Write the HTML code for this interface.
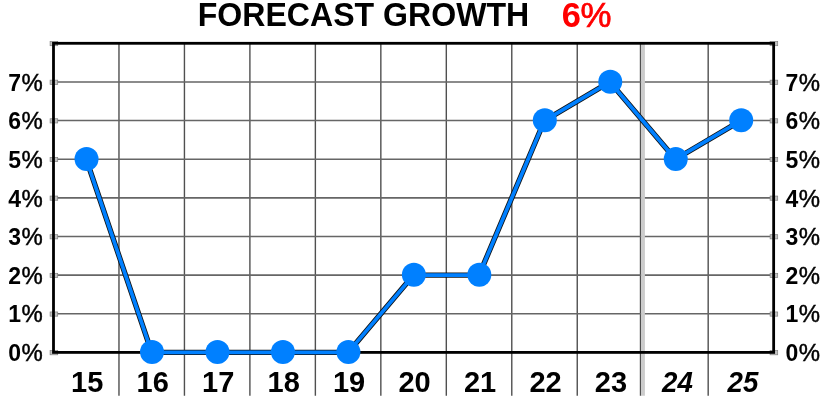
<!DOCTYPE html>
<html><head><meta charset="utf-8">
<style>
html,body{margin:0;padding:0;background:#fff;}
svg{display:block;will-change:transform;}
text{font-family:"Liberation Sans",sans-serif;font-weight:bold;fill:#000;}
</style></head>
<body>
<svg width="824" height="404" viewBox="0 0 824 404">
<text transform="translate(197.7 25.85) scale(1 1.035)" font-size="32.1">FORECAST GROWTH</text>
<text x="561.8" y="26.8" font-size="34.5" style="fill:#f00">6</text>
<text transform="translate(580.6 26.8) scale(1.01 1)" font-size="34.5" stroke="#f00" stroke-width="0.7" style="fill:#f00;font-weight:normal">%</text>
<path d="M118.97 43V395.7M184.44 43V395.7M249.90 43V395.7M315.37 43V395.7M380.84 43V395.7M446.31 43V395.7M511.78 43V395.7M577.25 43V395.7M640.51 43V395.7M708.18 43V395.7" stroke="#505050" stroke-width="1.4" fill="none"/>
<path d="M54 313.76H773M54 275.12H773M54 236.49H773M54 197.85H773M54 159.21H773M54 120.57H773M54 81.94H773" stroke="#666" stroke-width="1.6" fill="none"/>
<path d="M643.01 44V395.7" stroke="#cccccc" stroke-width="3.8"/>
<g fill="#c4c4c4" stroke="#808080" stroke-width="0.7"><rect x="50.1" y="350.60" width="7.6" height="4.2"/><rect x="770.1" y="350.60" width="7.6" height="4.2"/><rect x="50.1" y="311.96" width="7.6" height="4.2"/><rect x="770.1" y="311.96" width="7.6" height="4.2"/><rect x="50.1" y="273.32" width="7.6" height="4.2"/><rect x="770.1" y="273.32" width="7.6" height="4.2"/><rect x="50.1" y="234.69" width="7.6" height="4.2"/><rect x="770.1" y="234.69" width="7.6" height="4.2"/><rect x="50.1" y="196.05" width="7.6" height="4.2"/><rect x="770.1" y="196.05" width="7.6" height="4.2"/><rect x="50.1" y="157.41" width="7.6" height="4.2"/><rect x="770.1" y="157.41" width="7.6" height="4.2"/><rect x="50.1" y="118.77" width="7.6" height="4.2"/><rect x="770.1" y="118.77" width="7.6" height="4.2"/><rect x="50.1" y="80.14" width="7.6" height="4.2"/><rect x="770.1" y="80.14" width="7.6" height="4.2"/><rect x="50.1" y="41.50" width="7.6" height="4.2"/><rect x="770.1" y="41.50" width="7.6" height="4.2"/></g>
<rect x="53.50" y="43.30" width="720.15" height="309.10" fill="none" stroke="#000" stroke-width="2.8"/>
<polyline points="86.23,159.21 151.70,352.40 217.17,352.40 282.64,352.40 348.11,352.40 413.57,275.12 479.04,275.12 544.51,120.57 609.98,81.94 675.45,159.21 740.92,120.57" fill="none" stroke="#101418" stroke-width="5.4" stroke-linejoin="round"/>
<polyline points="86.23,159.21 151.70,352.40 217.17,352.40 282.64,352.40 348.11,352.40 413.57,275.12 479.04,275.12 544.51,120.57 609.98,81.94 675.45,159.21 740.92,120.57" fill="none" stroke="#0080ff" stroke-width="3.7" stroke-linejoin="round"/>
<g fill="#0080ff"><circle cx="86.53" cy="158.91" r="12"/><circle cx="152.00" cy="352.10" r="12"/><circle cx="217.47" cy="352.10" r="12"/><circle cx="282.94" cy="352.10" r="12"/><circle cx="348.41" cy="352.10" r="12"/><circle cx="413.87" cy="274.82" r="12"/><circle cx="479.34" cy="274.82" r="12"/><circle cx="544.81" cy="120.27" r="12"/><circle cx="610.28" cy="81.64" r="12"/><circle cx="675.75" cy="158.91" r="12"/><circle cx="741.22" cy="120.27" r="12"/></g>
<g font-size="23">
<text x="8.20" y="361.10">0</text><text transform="translate(21.50 361.10) scale(1.04 1)" x="0" y="0" stroke="#000" stroke-width="0.45" font-weight="normal" style="font-weight:normal">%</text>
<text x="785.50" y="361.10">0</text><text transform="translate(798.80 361.10) scale(1.04 1)" x="0" y="0" stroke="#000" stroke-width="0.45" font-weight="normal" style="font-weight:normal">%</text>
<text x="8.20" y="322.46">1</text><text transform="translate(21.50 322.46) scale(1.04 1)" x="0" y="0" stroke="#000" stroke-width="0.45" font-weight="normal" style="font-weight:normal">%</text>
<text x="785.50" y="322.46">1</text><text transform="translate(798.80 322.46) scale(1.04 1)" x="0" y="0" stroke="#000" stroke-width="0.45" font-weight="normal" style="font-weight:normal">%</text>
<text x="8.20" y="283.82">2</text><text transform="translate(21.50 283.82) scale(1.04 1)" x="0" y="0" stroke="#000" stroke-width="0.45" font-weight="normal" style="font-weight:normal">%</text>
<text x="785.50" y="283.82">2</text><text transform="translate(798.80 283.82) scale(1.04 1)" x="0" y="0" stroke="#000" stroke-width="0.45" font-weight="normal" style="font-weight:normal">%</text>
<text x="8.20" y="245.19">3</text><text transform="translate(21.50 245.19) scale(1.04 1)" x="0" y="0" stroke="#000" stroke-width="0.45" font-weight="normal" style="font-weight:normal">%</text>
<text x="785.50" y="245.19">3</text><text transform="translate(798.80 245.19) scale(1.04 1)" x="0" y="0" stroke="#000" stroke-width="0.45" font-weight="normal" style="font-weight:normal">%</text>
<text x="8.20" y="206.55">4</text><text transform="translate(21.50 206.55) scale(1.04 1)" x="0" y="0" stroke="#000" stroke-width="0.45" font-weight="normal" style="font-weight:normal">%</text>
<text x="785.50" y="206.55">4</text><text transform="translate(798.80 206.55) scale(1.04 1)" x="0" y="0" stroke="#000" stroke-width="0.45" font-weight="normal" style="font-weight:normal">%</text>
<text x="8.20" y="167.91">5</text><text transform="translate(21.50 167.91) scale(1.04 1)" x="0" y="0" stroke="#000" stroke-width="0.45" font-weight="normal" style="font-weight:normal">%</text>
<text x="785.50" y="167.91">5</text><text transform="translate(798.80 167.91) scale(1.04 1)" x="0" y="0" stroke="#000" stroke-width="0.45" font-weight="normal" style="font-weight:normal">%</text>
<text x="8.20" y="129.27">6</text><text transform="translate(21.50 129.27) scale(1.04 1)" x="0" y="0" stroke="#000" stroke-width="0.45" font-weight="normal" style="font-weight:normal">%</text>
<text x="785.50" y="129.27">6</text><text transform="translate(798.80 129.27) scale(1.04 1)" x="0" y="0" stroke="#000" stroke-width="0.45" font-weight="normal" style="font-weight:normal">%</text>
<text x="8.20" y="90.64">7</text><text transform="translate(21.50 90.64) scale(1.04 1)" x="0" y="0" stroke="#000" stroke-width="0.45" font-weight="normal" style="font-weight:normal">%</text>
<text x="785.50" y="90.64">7</text><text transform="translate(798.80 90.64) scale(1.04 1)" x="0" y="0" stroke="#000" stroke-width="0.45" font-weight="normal" style="font-weight:normal">%</text>
</g>
<g font-size="29" text-anchor="middle">
<text x="87.23" y="392">15</text>
<text x="152.70" y="392">16</text>
<text x="218.17" y="392">17</text>
<text x="283.64" y="392">18</text>
<text x="349.11" y="392">19</text>
<text x="414.57" y="392">20</text>
<text x="480.04" y="392">21</text>
<text x="545.51" y="392">22</text>
<text x="610.98" y="392">23</text>
<text transform="translate(677.45 392) scale(0.955 1)" font-style="italic">24</text>
<text transform="translate(742.92 392) scale(0.955 1)" font-style="italic">25</text>
</g>
</svg>
</body></html>
